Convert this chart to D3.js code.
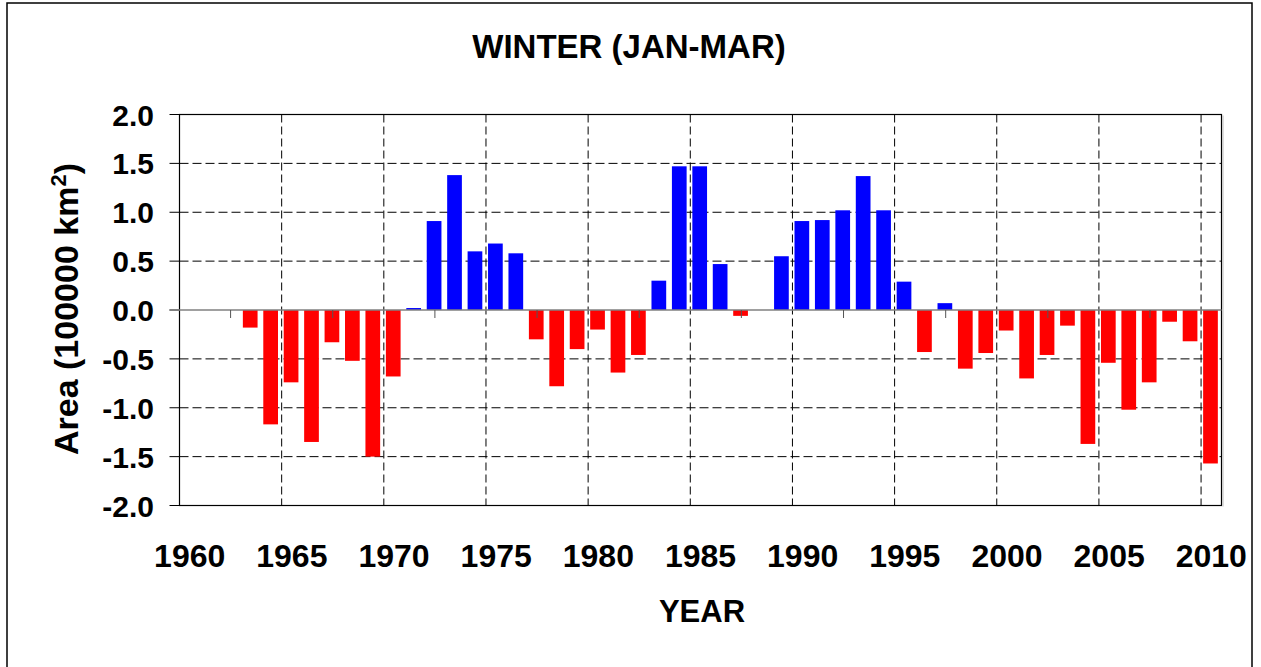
<!DOCTYPE html>
<html>
<head>
<meta charset="utf-8">
<title>Winter (Jan-Mar)</title>
<script type="text/javascript" src="https://d3js.org/d3.v7.js"></script>
<style>
    * { margin: 0; padding: 0; }
    body { background: #fff; }
    #chart-container { width: 1261px; height: 667px; }
    text { font-family: Arial, "Liberation Sans", sans-serif; font-weight: bold; fill: #000; }
</style>
</head>
<body>
<div id="chart-container"></div>
<script type="text/javascript">

    // data (anomaly, 100000 km2); null = no bar
    const years = d3.range(1960, 2011);
    const values = [
        null, null, null, -0.18, -1.17, -0.74, -1.35, -0.33, -0.52, -1.50,   // 1960-1969
        -0.68, 0.02, 0.91, 1.38, 0.60, 0.68, 0.58, -0.30, -0.78, -0.40,       // 1970-1979
        -0.20, -0.64, -0.46, 0.30, 1.47, 1.47, 0.47, -0.06, 0, 0.55,          // 1980-1989
        0.91, 0.92, 1.02, 1.37, 1.02, 0.29, -0.43, 0.07, -0.60, -0.44,        // 1990-1999
        -0.21, -0.70, -0.46, -0.16, -1.37, -0.54, -1.02, -0.74, -0.12, -0.32, // 2000-2009
        -1.57                                                                 // 2010
    ];
    const yTicks = [2.0, 1.5, 1.0, 0.5, 0.0, -0.5, -1.0, -1.5, -2.0];
    const xLabelYears = [1960, 1965, 1970, 1975, 1980, 1985, 1990, 1995, 2000, 2005, 2010];
    const gridYears = [1965, 1970, 1975, 1980, 1985, 1990, 1995, 2000, 2005, 2010];
    const zeroTickYears = [1962, 1967, 1972, 1977, 1982, 1987, 1992, 1997, 2002, 2007];

    const width = 1261, height = 667;
    const plot = { left: 179.5, right: 1221.5, top: 114.5, bottom: 505.5 };

    const svg = d3.select("#chart-container")
        .append("svg")
        .attr("width", width)
        .attr("height", height);

    // outer frame
    svg.append("rect")
        .attr("x", 7).attr("y", 3)
        .attr("width", 1245).attr("height", 690)
        .attr("fill", "none").attr("stroke", "#000").attr("stroke-width", 1.5);

    // scales
    const xCat = d3.scaleBand().domain(years).range([plot.left, plot.right]).padding(0);
    const xBar = d3.scaleBand().domain(years).range([plot.left, plot.right])
        .paddingInner(0.28).paddingOuter(0.14);
    const y = d3.scaleLinear().domain([-2, 2]).range([plot.bottom, plot.top]);

    // horizontal grid (dashed) + tick stubs to the left
    svg.append("g")
        .selectAll("line")
        .data(yTicks.filter(d => d !== 2 && d !== -2 && d !== 0))
        .join("line")
        .attr("x1", plot.left).attr("x2", plot.right)
        .attr("y1", d => y(d)).attr("y2", d => y(d))
        .attr("stroke", "#000").attr("stroke-width", 1)
        .attr("stroke-dasharray", "9,4");

    svg.append("g")
        .selectAll("line")
        .data(yTicks)
        .join("line")
        .attr("x1", plot.left - 10).attr("x2", plot.left)
        .attr("y1", d => y(d)).attr("y2", d => y(d))
        .attr("stroke", "#000").attr("stroke-width", 1);

    // vertical grid (dashed) at category edges
    svg.append("g")
        .selectAll("line")
        .data(gridYears)
        .join("line")
        .attr("x1", d => xCat(d)).attr("x2", d => xCat(d))
        .attr("y1", plot.top).attr("y2", plot.bottom)
        .attr("stroke", "#000").attr("stroke-width", 1)
        .attr("stroke-dasharray", "8,4");

    // bars
    const barData = years.map((yr, i) => ({ year: yr, value: values[i] }))
        .filter(d => d.value !== null && d.value !== 0);

    svg.append("g")
        .selectAll("rect")
        .data(barData)
        .join("rect")
        .attr("x", d => xBar(d.year) - 0.8)
        .attr("width", xBar.bandwidth())
        .attr("y", d => y(Math.max(0, d.value)))
        .attr("height", d => Math.abs(y(d.value) - y(0)))
        .attr("fill", d => d.value > 0 ? "#0000ff" : "#ff0000");

    // plot border
    svg.append("rect")
        .attr("x", plot.left).attr("y", plot.top)
        .attr("width", plot.right - plot.left).attr("height", plot.bottom - plot.top)
        .attr("fill", "none").attr("stroke", "#000").attr("stroke-width", 1.2);
    svg.append("line")
        .attr("x1", plot.right + 1.5).attr("x2", plot.right + 1.5)
        .attr("y1", plot.top + 1).attr("y2", plot.bottom + 1)
        .attr("stroke", "#bbb").attr("stroke-width", 1);

    // zero line with its small ticks
    svg.append("line")
        .attr("x1", plot.left - 10).attr("x2", plot.right)
        .attr("y1", y(0)).attr("y2", y(0))
        .attr("stroke", "#808080").attr("stroke-width", 1.5);
    svg.append("g")
        .selectAll("line")
        .data(zeroTickYears)
        .join("line")
        .attr("x1", d => xCat(d) + xCat.bandwidth() / 2)
        .attr("x2", d => xCat(d) + xCat.bandwidth() / 2)
        .attr("y1", y(0)).attr("y2", y(0) + 8)
        .attr("stroke", "#555").attr("stroke-width", 1);

    // y tick labels (plain hyphen as minus, like the original)
    svg.append("g")
        .selectAll("text")
        .data(yTicks)
        .join("text")
        .attr("x", 154)
        .attr("y", d => y(d) + 11)
        .attr("text-anchor", "end")
        .style("font-size", "30px")
        .text(d => d.toFixed(1));

    // x tick labels
    svg.append("g")
        .selectAll("text")
        .data(xLabelYears)
        .join("text")
        .attr("x", d => xCat(d) + xCat.bandwidth() / 2)
        .attr("y", 567)
        .attr("text-anchor", "middle")
        .style("font-size", "32px")
        .text(d => d);

    // title & axis titles
    svg.append("text")
        .attr("x", 629).attr("y", 58)
        .attr("text-anchor", "middle")
        .style("font-size", "33px")
        .text("WINTER (JAN-MAR)");

    svg.append("text")
        .attr("x", 702).attr("y", 622)
        .attr("text-anchor", "middle")
        .style("font-size", "31px")
        .text("YEAR");

    const yLab = svg.append("text")
        .attr("transform", "translate(78,309) rotate(-90)")
        .attr("text-anchor", "middle")
        .style("font-size", "34px");
    yLab.append("tspan").text("Area (100000 km");
    yLab.append("tspan").attr("dy", -12).style("font-size", "22px").text("2");
    yLab.append("tspan").attr("dy", 12).text(")");

</script>
</body>
</html>
